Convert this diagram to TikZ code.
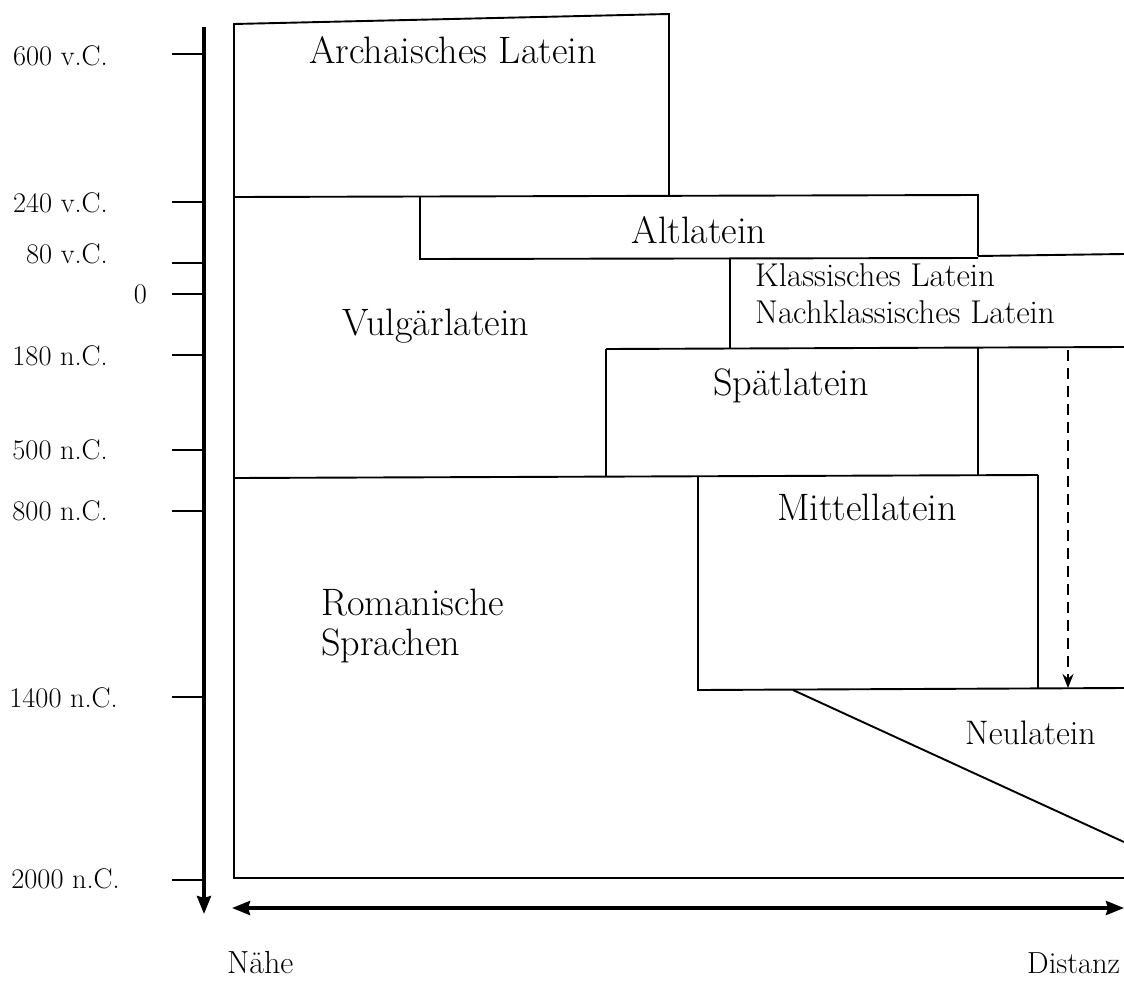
\documentclass[tikz,border=0pt]{standalone}
\usepackage{fontspec}
\setmainfont{Latin Modern Roman}
\usetikzlibrary{arrows.meta}
\begin{document}
\begin{tikzpicture}[x=1pt,y=-1pt,
  boxline/.style={line width=1.9pt, line join=miter},
  axisline/.style={line width=3.6pt},
  tickline/.style={line width=2.2pt},
  ticklab/.style={anchor=base east, inner sep=0pt, font=\fontsize{28.4}{32}\selectfont},
  lab/.style={anchor=base, inner sep=0pt, font=\fontsize{38.2}{44}\selectfont},
  smalllab/.style={anchor=base west, inner sep=0pt, font=\fontsize{33}{38}\selectfont},
  bigtip/.style={-{Stealth[length=18pt,width=14pt,inset=2pt]}}
]
\useasboundingbox[fill=white] (0,0) rectangle (1124,980);

% time axis
\coordinate (axtop) at (204,27);
\coordinate (axbot) at (204,914);
\draw[axisline,bigtip] (axtop) -- (axbot);

% distance axis
\coordinate (near) at (232,908);
\coordinate (far) at (1124,908);
\draw[axisline,{Stealth[length=18pt,width=14pt,inset=2pt]}-{Stealth[length=18pt,width=14pt,inset=2pt]}] (near) -- (far);

% ticks and their labels
\foreach \y/\b/\t/\r in {54/65/600 v.C./108, 202/212/240 v.C./108, 263/263/80 v.C./108,
  294/303/0/147, 355/365/180 n.C./108, 450/459/500 n.C./108, 511/520/800 n.C./108,
  697/707/1400 n.C./118, 880/888/2000 n.C./120}{
  \draw[tickline] (172,\y) -- (204,\y);
  \node[ticklab] at (\r,\b) {\t};
}

% Archaisches Latein
\draw[boxline] (234,197) -- (234,24) -- (669,14) -- (669,196);
% outer frame left and bottom
\draw[boxline] (234,197) -- (234,878) -- (1124,878);
% line at 240 v.C.
\draw[boxline] (234,197) -- (978,195) -- (978,256);
% Altlatein box
\draw[boxline] (420,196) -- (420,259) -- (978,258);
% Klassisches Latein box
\draw[boxline] (978,256) -- (1124,254);
\draw[boxline] (730,258) -- (730,349);
\draw[boxline] (606,349) -- (1124,347);
% Spaetlatein box
\draw[boxline] (606,349) -- (606,477);
\draw[boxline] (978,348) -- (978,476);
% line at 800 n.C.
\draw[boxline] (234,478) -- (1038,475);
% Mittellatein box
\draw[boxline] (698,477) -- (698,690) -- (1124,688);
\draw[boxline] (1038,475) -- (1038,689);
% Neulatein wedge
\coordinate (wedgeA) at (793,690);
\coordinate (wedgeB) at (1124,842);
\draw[boxline] (wedgeA) -- (wedgeB);

% dashed arrow
\coordinate (dashA) at (1068,350);
\coordinate (dashB) at (1068,688);
\draw[line width=2.4pt, dash pattern=on 11pt off 7pt, -{Stealth[length=14pt,width=11pt]}] (dashA) -- (dashB);

% labels
\node[lab] (arch) at (453,63) {Archaisches Latein};
\node[lab] (alt) at (699,243) {Altlatein};
\node[smalllab] (klass) at (755,286) {Klassisches Latein};
\node[smalllab] (nach) at (755,323) {Nachklassisches Latein};
\node[lab] (vulg) at (436,335) {Vulgärlatein};
\node[lab] (spaet) at (791,395) {Spätlatein};
\node[lab] (mittel) at (867,520) {Mittellatein};
\node[lab, anchor=base west] (rom) at (321,615) {Romanische};
\node[lab, anchor=base west] (spr) at (321,655) {Sprachen};
\node[smalllab, font=\fontsize{34}{40}\selectfont] (neu) at (965,744) {Neulatein};
\node[smalllab, font=\fontsize{32}{36}\selectfont] (naehe) at (227,973) {Nähe};
\node[smalllab, font=\fontsize{30.5}{36}\selectfont] (dist) at (1027,973) {Distanz};
\end{tikzpicture}
\end{document}
